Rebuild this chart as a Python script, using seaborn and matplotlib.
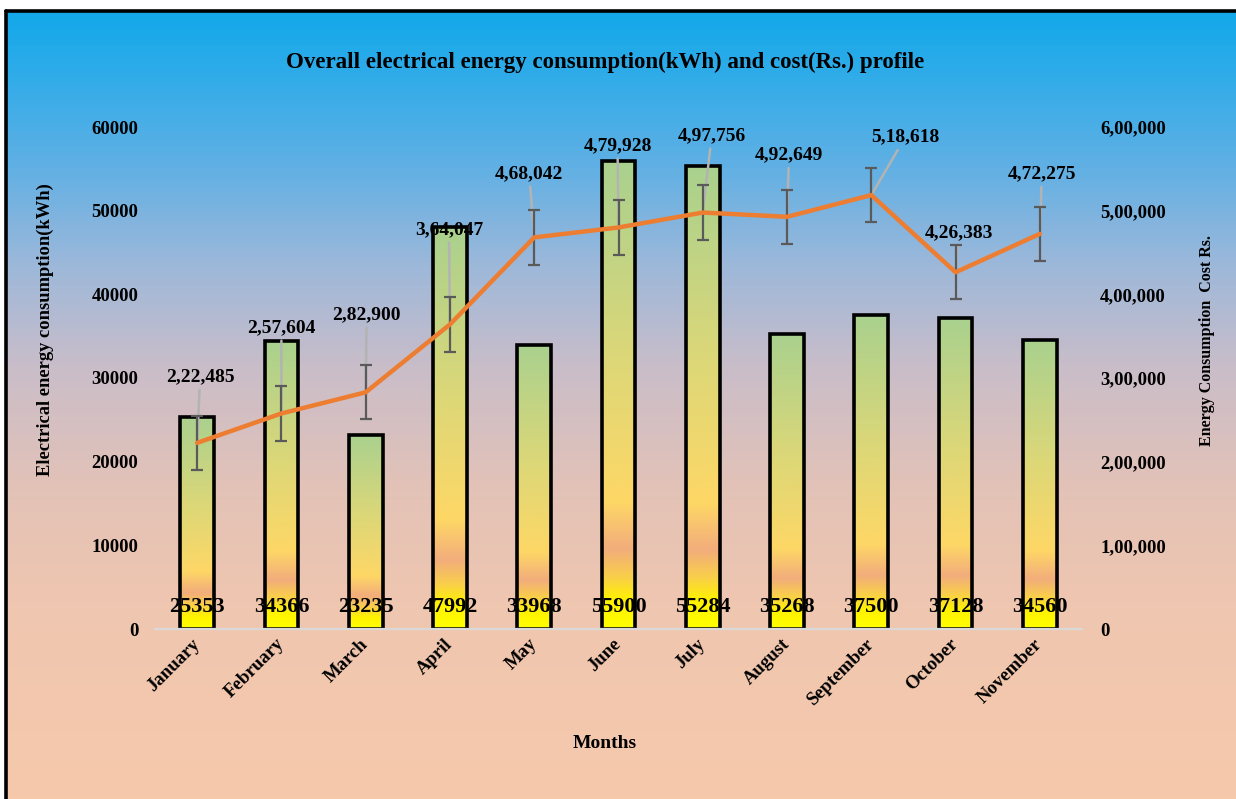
import numpy as np
import matplotlib
matplotlib.use("Agg")
import matplotlib.pyplot as plt
from matplotlib.colors import LinearSegmentedColormap
from matplotlib.lines import Line2D
from matplotlib.transforms import ScaledTranslation
import seaborn as sns

# ---------------- data ----------------
months = ["January", "February", "March", "April", "May", "June",
          "July", "August", "September", "October", "November"]
energy_kwh = [25353, 34366, 23235, 47992, 33968, 55900, 55284, 35268, 37500, 37128, 34560]
cost_rs = [222485, 257604, 282900, 364047, 468042, 479928, 497756, 492649, 518618, 426383, 472275]
cost_err = 32400          # standard-error bar half length (Rs.)
kwh_ticks = [0, 10000, 20000, 30000, 40000, 50000, 60000]
cost_ticks = [0, 100000, 200000, 300000, 400000, 500000, 600000]

title = "Overall electrical energy consumption(kWh) and cost(Rs.) profile"
xlabel = "Months"
ylabel_left = "Electrical energy consumption(kWh)"
ylabel_right = "Energy Consumption  Cost Rs."

# label offsets (pixels) for the cost callouts
label_offsets = [(3, 66), (0, 86), (1, 78), (-1, 95), (-5, 64), (-1, 82),
                 (9, 77), (2, 62), (34, 58), (3, 40), (2, 60)]


def indian(n):
    s = str(int(n))
    if len(s) <= 3:
        return s
    last3, rest = s[-3:], s[:-3]
    groups = []
    while len(rest) > 2:
        groups.insert(0, rest[-2:])
        rest = rest[:-2]
    if rest:
        groups.insert(0, rest)
    return ",".join(groups + [last3])


sns.set_style("white")
plt.rcParams["font.family"] = ["Liberation Serif", "DejaVu Serif"]
plt.rcParams["font.weight"] = "bold"
plt.rcParams["text.color"] = "black"
plt.rcParams["xtick.color"] = "black"
plt.rcParams["ytick.color"] = "black"
plt.rcParams["axes.labelcolor"] = "black"

W, H = 1236, 799
fig = plt.figure(figsize=(W / 100, H / 100), dpi=100)
fig.patch.set_facecolor("white")

# ---------------- background gradient ----------------
bg_cmap = LinearSegmentedColormap.from_list("bg", [
    (0.00, "#f6c9ab"),
    (0.25, "#efc6b0"),
    (0.40, "#e2c2b8"),
    (0.55, "#c9bdc9"),
    (0.68, "#9cb8da"),
    (0.80, "#62b0e4"),
    (0.92, "#30ace9"),
    (1.00, "#12a8ea"),
])
bg = fig.add_axes([6 / W, 0, 1 - 6 / W, 1 - 11 / H])
bg.imshow(np.linspace(0, 1, 256).reshape(-1, 1), aspect="auto", cmap=bg_cmap,
          origin="lower", extent=[0, 1, 0, 1])
bg.axis("off")
bg.set_zorder(-10)

fig.add_artist(Line2D([6 / W, 1], [1 - 11 / H, 1 - 11 / H], transform=fig.transFigure,
                      color="black", lw=2.6))
fig.add_artist(Line2D([6 / W, 6 / W], [0, 1 - 11 / H], transform=fig.transFigure,
                      color="black", lw=2.6))

# ---------------- main axes ----------------
ax = fig.add_axes([155 / W, 1 - 629 / H, (1082 - 155) / W, (629 - 127) / H])
ax.patch.set_alpha(0)

sns.barplot(x=months, y=energy_kwh, ax=ax, width=0.40, color="white",
            edgecolor="black", linewidth=2.6)

bar_cmap = LinearSegmentedColormap.from_list("bar", [
    (0.00, "#ffff00"),
    (0.06, "#fff200"),
    (0.11, "#f9cf4a"),
    (0.17, "#f2ad7c"),
    (0.27, "#fed766"),
    (0.60, "#dad779"),
    (1.00, "#a9d18e"),
])
grad = np.linspace(0, 1, 256).reshape(-1, 1)
for p in ax.patches:
    x0, y0 = p.get_x(), p.get_y()
    w, h = p.get_width(), p.get_height()
    im = ax.imshow(grad, extent=[x0, x0 + w, y0, y0 + h], aspect="auto",
                   cmap=bar_cmap, origin="lower", zorder=0.9)
    im.set_clip_path(p)
    p.set_facecolor("none")
    p.set_zorder(1.5)

for i, v in enumerate(energy_kwh):
    ax.text(i, 2600, f"{v}", ha="center", va="center", fontsize=16,
            fontweight="bold", color="black", zorder=5)

ax.set_xlim(-0.5, len(months) - 0.5)
ax.set_ylim(0, 60000)
ax.set_aspect("auto")
ax.set_yticks(kwh_ticks)
ax.set_yticklabels([str(t) for t in kwh_ticks], fontsize=13.5, fontweight="bold")
ax.set_xticks(range(len(months)))
ax.set_xticklabels(months, rotation=45, ha="right", va="center",
                   rotation_mode="anchor", fontsize=13.5, fontweight="bold")
shift = ScaledTranslation(5 / 100, 0, fig.dpi_scale_trans)
for lbl in ax.get_xticklabels():
    lbl.set_transform(lbl.get_transform() + shift)
ax.tick_params(axis="both", length=0)
ax.tick_params(axis="y", pad=12)
ax.tick_params(axis="x", pad=9)
ax.set_xlabel("")
ax.set_ylabel("")
for s in ["top", "right", "left"]:
    ax.spines[s].set_visible(False)
ax.spines["bottom"].set_color("#d9d9d9")
ax.spines["bottom"].set_linewidth(1.6)
ax.grid(False)

# ---------------- secondary axis (cost) ----------------
ax2 = ax.twinx()
ax2.patch.set_alpha(0)
xpos = np.arange(len(months))
ax2.errorbar(xpos, cost_rs, yerr=cost_err, fmt="none", ecolor="#5a5a5a",
             elinewidth=1.6, capsize=4.5, capthick=1.6, zorder=2.5)
sns.lineplot(x=xpos, y=cost_rs, ax=ax2, color="#ed7d31", linewidth=3.2, zorder=4)

for i, c in enumerate(cost_rs):
    ax2.annotate(indian(c), xy=(i, c), xytext=label_offsets[i],
                 textcoords="offset pixels", ha="center", va="center",
                 fontsize=14, fontweight="bold", color="black",
                 arrowprops=dict(arrowstyle="-", color="#b3b3b3", lw=1.8,
                                 shrinkA=1, shrinkB=0),
                 zorder=2)

ax2.set_ylim(0, 600000)
ax2.set_xlim(-0.5, len(months) - 0.5)
ax2.set_yticks(cost_ticks)
ax2.set_yticklabels([indian(t) for t in cost_ticks], fontsize=13.5, fontweight="bold")
ax2.tick_params(axis="y", length=0, pad=13)
ax2.set_ylabel("")
ax2.set_xlabel("")
for s in ax2.spines.values():
    s.set_visible(False)
ax2.grid(False)

# ---------------- texts ----------------
fig.text(605 / W, 1 - 62 / H, title, ha="center", va="center",
         fontsize=16.5, fontweight="bold")
fig.text(605 / W, 1 - 743 / H, xlabel, ha="center", va="center",
         fontsize=14, fontweight="bold")
fig.text(45 / W, 1 - 330 / H, ylabel_left, ha="center", va="center",
         rotation=90, fontsize=13.3, fontweight="bold")
fig.text(1207 / W, 1 - 341 / H, ylabel_right, ha="center", va="center",
         rotation=90, fontsize=11.5, fontweight="bold")

fig.savefig("out.png", dpi=100)
